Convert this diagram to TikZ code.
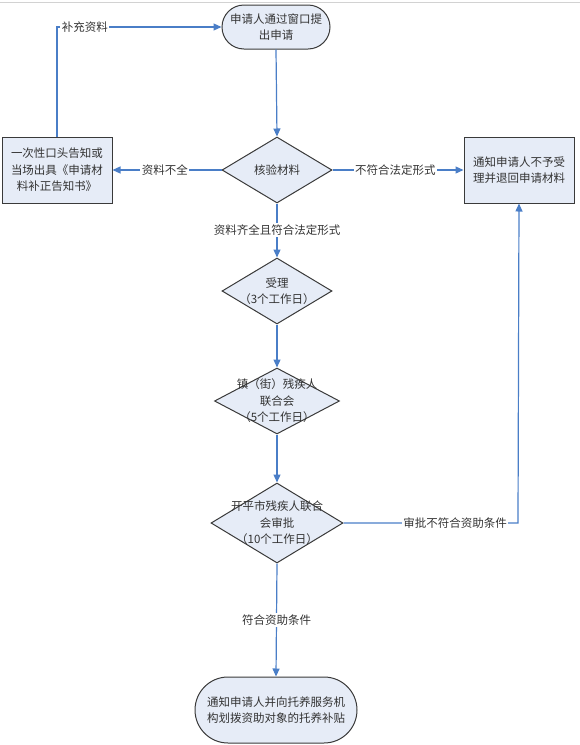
\documentclass[tikz,border=0pt]{standalone}
\usepackage{fontspec}
\setmainfont{Noto Sans CJK SC}
\usetikzlibrary{shapes.geometric,arrows.meta}
\definecolor{nodefill}{HTML}{E6ECF7}
\definecolor{linkblue}{HTML}{4A7EC7}
\definecolor{edge}{HTML}{3A3A3A}
\definecolor{txt}{HTML}{333333}
\tikzset{
  box/.style={draw=edge, line width=1pt, fill=nodefill, inner sep=0pt},
  txtnode/.style={align=center, text=txt, font=\fontsize{11.5}{16.5}\selectfont, inner sep=0pt},
  lbl/.style={fill=white, text=txt, font=\fontsize{11.5}{14}\selectfont, inner sep=1.5pt},
  link/.style={draw=linkblue, line width=1.2pt, -{Triangle[length=8pt,width=7pt]}}
}
\begin{document}
\begin{tikzpicture}[x=1pt,y=-1pt]
\useasboundingbox (0,0) rectangle (580,745);
\draw[gray!35, line width=1.2pt] (0,2.5) -- (580,2.5);

% nodes
\node[box, rounded corners=22pt, minimum width=108pt, minimum height=44pt] (start) at (276,27) {};
\node[txtnode] at (start.center) {申请人通过窗口提\\出申请};

\node[box, diamond, minimum width=110pt, minimum height=66pt] (check) at (277,170) {};
\node[txtnode] at (check.center) {核验材料};

\node[box, minimum width=110pt, minimum height=66pt] (left) at (57,170) {};
\node[txtnode] at (left.center) {一次性口头告知或\\当场出具《申请材\\料补正告知书》};

\node[box, minimum width=110pt, minimum height=66pt] (right) at (519,170) {};
\node[txtnode] at (right.center) {通知申请人不予受\\理并退回申请材料};

\node[box, diamond, minimum width=110pt, minimum height=66pt] (accept) at (277,291) {};
\node[txtnode] at (accept.center) {受理\\（3个工作日）};

\node[box, diamond, minimum width=125pt, minimum height=66pt] (town) at (277,401) {};
\node[txtnode] at (town.center) {镇（街）残疾人\\联合会\\（5个工作日）};

\node[box, diamond, minimum width=132pt, minimum height=80pt] (city) at (277,523) {};
\node[txtnode] at (city.center) {开平市残疾人联合\\会审批\\（10个工作日）};

\node[box, rounded corners=33pt, minimum width=162pt, minimum height=66pt] (end) at (276,710) {};
\node[txtnode] at (end.center) {通知申请人并向托养服务机\\构划拨资助对象的托养补贴};

\coordinate (tl) at (57,27);
\coordinate (br) at (518,523);

% connectors
\draw[link] (start.south) -- (check.north);
\draw[link] (check.west) -- node[lbl, pos=0.52]{资料不全} (left.east);
\draw[link] (check.east) -- node[lbl, pos=0.48]{不符合法定形式} (right.west);
\draw[link] (left.north) -- (tl) -- node[lbl, pos=0.17]{补充资料} (start.west);
\draw[link] (check.south) -- node[lbl, pos=0.49]{资料齐全且符合法定形式} (accept.north);
\draw[link] (accept.south) -- (town.north);
\draw[link] (town.south) -- (city.north);
\draw[link] (city.east) -- node[lbl, pos=0.64]{审批不符合资助条件} (br) -- (right.south);
\draw[link] (city.south) -- node[lbl, pos=0.5]{符合资助条件} (end.north);
\end{tikzpicture}
\end{document}
